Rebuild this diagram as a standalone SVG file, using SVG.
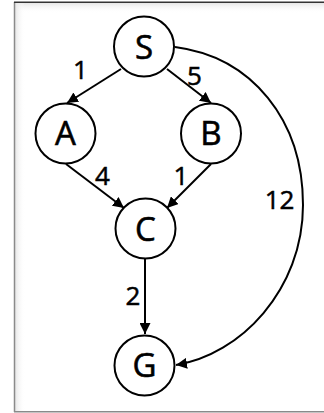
<svg xmlns="http://www.w3.org/2000/svg" width="324" height="413" viewBox="0 0 324 413">
<defs>
<style>
.node circle{fill:#fff;stroke:#000;stroke-width:2}
.node text{font-family:"Open Sans","Noto Sans",sans-serif;font-size:33px;text-anchor:middle;fill:#000;stroke:#000;stroke-width:0.6}
.edge{fill:none;stroke:#000;stroke-width:2;marker-end:url(#arr)}
.lbl{font-family:"Open Sans","Noto Sans",sans-serif;font-size:26px;text-anchor:middle;fill:#000;stroke:#000;stroke-width:0.5}
</style>
<marker id="arr" viewBox="0 0 10 10" refX="10" refY="5" markerWidth="5.5" markerHeight="5.5" orient="auto" markerUnits="strokeWidth">
<path d="M0,0 L10,5 L0,10 z" fill="#000"/>
</marker>
<linearGradient id="gt" x1="0" y1="0" x2="0" y2="1">
<stop offset="0" stop-color="#e6e6e6"/><stop offset="1" stop-color="#fff" stop-opacity="0"/>
</linearGradient>
<linearGradient id="gl" x1="0" y1="0" x2="1" y2="0">
<stop offset="0" stop-color="#e6e6e6"/><stop offset="1" stop-color="#fff" stop-opacity="0"/>
</linearGradient>
</defs>
<rect width="324" height="413" fill="#fff"/>
<g id="frame">
<rect x="15" y="3" width="309" height="10" fill="url(#gt)"/>
<rect x="15" y="3" width="10" height="408" fill="url(#gl)"/>
<line x1="14.5" y1="2" x2="14.5" y2="412" stroke="#8a8a8a" stroke-width="1.5"/>
<line x1="14" y1="411.8" x2="324" y2="411.8" stroke="#8a8a8a" stroke-width="1.5"/>
<line x1="14" y1="2.2" x2="324" y2="2.2" stroke="#333" stroke-width="1.5"/>
</g>
<g id="connectors">
<line class="edge" x1="121" y1="69" x2="67" y2="103"/>
<line class="edge" x1="167" y1="69" x2="211" y2="103"/>
<line class="edge" x1="66" y1="164" x2="124" y2="208"/>
<line class="edge" x1="211" y1="164" x2="167" y2="208"/>
<line class="edge" x1="145" y1="259" x2="145" y2="334"/>
<path class="edge" d="M175,47 C252,57 303,120 303,205 C303,290 240,355 176,365"/>
<text class="lbl" x="80.5" y="79">1</text>
<text class="lbl" x="194.5" y="85">5</text>
<text class="lbl" x="102.5" y="185">4</text>
<text class="lbl" x="181" y="185">1</text>
<text class="lbl" x="279.5" y="209">12</text>
<text class="lbl" x="133" y="305">2</text>
</g>
<g id="S" class="node"><circle cx="144" cy="46.5" r="30"/><text x="144" y="59">S</text></g>
<g id="A" class="node"><circle cx="65.5" cy="133.5" r="30"/><text x="65.5" y="145">A</text></g>
<g id="B" class="node"><circle cx="211" cy="133.5" r="30"/><text x="211" y="145">B</text></g>
<g id="C" class="node"><circle cx="145.5" cy="228.5" r="30"/><text x="145.5" y="241">C</text></g>
<g id="G" class="node"><circle cx="144.5" cy="365.5" r="30"/><text x="144.5" y="377">G</text></g>
</svg>
